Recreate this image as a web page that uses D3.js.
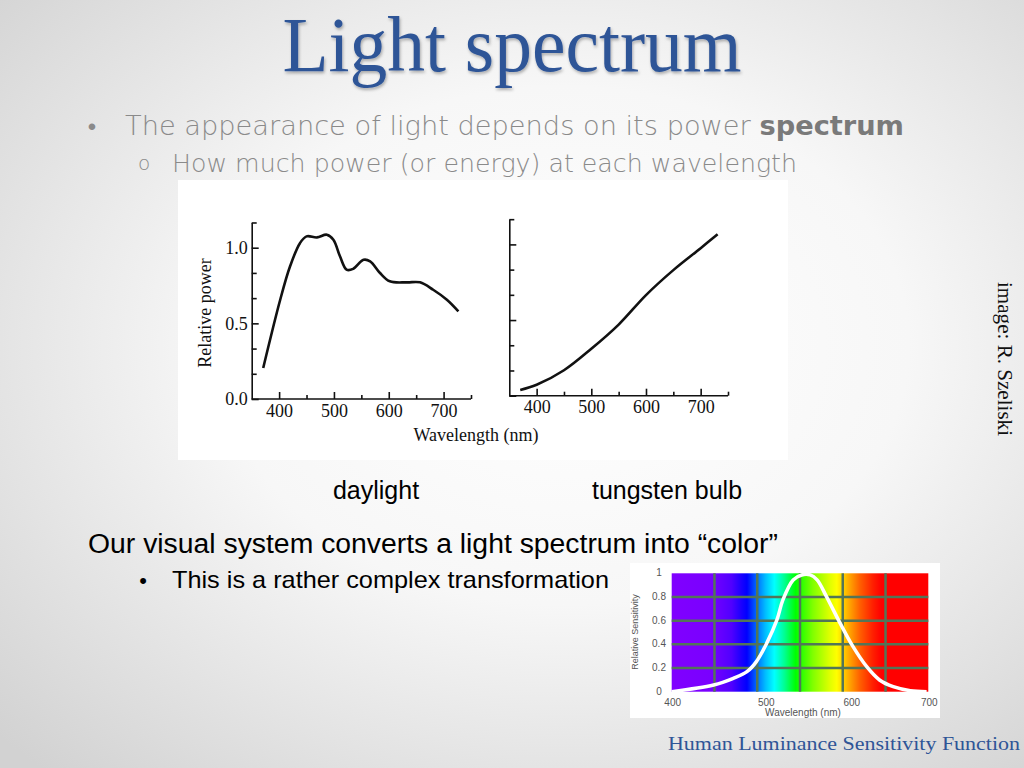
<!DOCTYPE html>
<html lang="en">
<head>
<meta charset="UTF-8">
<title>Light spectrum</title>
<script src="https://d3js.org/d3.v7.min.js"></script>
<style>
    body { margin: 0; }
    .serif { font-family: "Liberation Serif", "DejaVu Serif", serif; }
    .sans { font-family: "Liberation Sans", Arial, sans-serif; }
    .gothic { font-family: "DejaVu Sans", "Liberation Sans", sans-serif; font-weight: 300; }
    .paxis path, .paxis line { stroke: #111; stroke-width: 1.6; }
    .paxis text { font-family: "Liberation Serif", serif; font-size: 18px; fill: #111; }
</style>
</head>
<body>
<div id="fig"></div>
<script>
    // daylight spectrum
    let daylight_nm = [371, 402, 420, 438, 450, 469, 487, 499, 511, 523, 535, 554, 566, 584, 602, 633, 657, 681, 706, 727]
    let daylight_power = [0.205, 0.656, 0.877, 1.03, 1.075, 1.068, 1.086, 1.053, 0.943, 0.855, 0.86, 0.92, 0.91, 0.833, 0.778, 0.771, 0.771, 0.722, 0.656, 0.579]

    // tungsten bulb spectrum
    let tungsten_nm = [370, 400, 450, 500, 550, 600, 650, 700, 731]
    let tungsten_power = [0.038, 0.072, 0.168, 0.31, 0.47, 0.665, 0.83, 0.975, 1.067]

    // human luminance sensitivity
    let lum_nm = [400, 449, 472, 488, 499, 511, 523, 530, 542, 552, 562, 570, 581, 597, 612, 628, 643, 659, 679, 698]
    let lum_val = [0, 0.056, 0.113, 0.169, 0.254, 0.408, 0.606, 0.775, 0.944, 0.986, 0.986, 0.944, 0.803, 0.577, 0.38, 0.211, 0.099, 0.042, 0.008, 0]

    let wave_ticks = [400, 450, 500, 550, 600, 650, 700, 750]
    let power_ticks = [0, 1/6, 2/6, 3/6, 4/6, 5/6, 1, 7/6]
    let lum_x_ticks = [400, 500, 600, 700]
    let lum_x_grid = [450, 500, 550, 600, 650]
    let lum_y_ticks = [0, 0.2, 0.4, 0.6, 0.8, 1]

    let spectrum_nm = [400, 445, 470, 482, 488, 500, 510, 520, 532, 545, 565, 585, 593, 606, 620, 635, 645, 700]
    let spectrum_col = ["#8000ff", "#7a00ff", "#5000ff", "#1800ff", "#0000ff", "#0070ff", "#00c0ff", "#00ffff", "#00ff90", "#00ff00", "#80ff00", "#e0ff00", "#ffff00", "#ffb000", "#ff6000", "#ff2000", "#ff0000", "#ff0000"]

    let W = 1024, H = 768
    let svg = d3.select("#fig").append("svg").attr("width", W).attr("height", H)
    let defs = svg.append("defs")

    let bg = defs.append("radialGradient").attr("id", "bg")
        .attr("cx", "55%").attr("cy", "45%").attr("r", "75%")
    bg.append("stop").attr("offset", "0").attr("stop-color", "#ffffff")
    bg.append("stop").attr("offset", "0.45").attr("stop-color", "#f7f7f7")
    bg.append("stop").attr("offset", "1").attr("stop-color", "#d2d2d2")

    let shadow = defs.append("filter").attr("id", "shadow")
    shadow.append("feDropShadow").attr("dx", 1).attr("dy", 2).attr("stdDeviation", 1.5)
        .attr("flood-color", "#000").attr("flood-opacity", 0.3)

    svg.append("rect").attr("width", W).attr("height", H).attr("fill", "url(#bg)")

    // title
    svg.append("text").attr("class", "serif")
        .attr("x", 512).attr("y", 71).attr("text-anchor", "middle")
        .attr("font-size", 78).attr("fill", "#2f5597")
        .attr("textLength", 459).attr("lengthAdjust", "spacingAndGlyphs")
        .attr("filter", "url(#shadow)")
        .text("Light spectrum")

    // bullets
    svg.append("text").attr("x", 92).attr("y", 135).attr("text-anchor", "middle")
        .attr("class", "sans").attr("font-size", 24).attr("fill", "#8a8a8a").text("•")
    let l1 = svg.append("text").attr("class", "gothic").attr("x", 125).attr("y", 135)
        .attr("font-size", 27).attr("fill", "#8a8a8a")
        .attr("textLength", 779).attr("lengthAdjust", "spacingAndGlyphs")
    l1.append("tspan").text("The appearance of light depends on its power ")
    l1.append("tspan").attr("font-weight", "bold").attr("fill", "#7a7a7a").text("spectrum")

    svg.append("text").attr("x", 144).attr("y", 170).attr("text-anchor", "middle")
        .attr("class", "gothic").attr("font-size", 20).attr("fill", "#8a8a8a").text("o")
    svg.append("text").attr("class", "gothic").attr("x", 172).attr("y", 172)
        .attr("font-size", 25).attr("fill", "#8a8a8a")
        .attr("textLength", 625).attr("lengthAdjust", "spacingAndGlyphs")
        .text("How much power (or energy) at each wavelength")

    // white image panel behind the two plots
    svg.append("rect").attr("x", 178).attr("y", 180).attr("width", 610).attr("height", 280).attr("fill", "#ffffff")

    function power_plot(nm, power, left, right, base, labels) {
        let x = d3.scaleLinear().domain([350, 750]).range([left, right])
        let y = d3.scaleLinear().domain([0, 7/6]).range([base, base - 151.3 * 7/6])

        let xa = svg.append("g").attr("class", "paxis")
            .attr("transform", `translate(0,${base})`)
            .call(d3.axisBottom(x).tickValues(wave_ticks).tickSizeInner(-7).tickSizeOuter(0).tickPadding(5)
                .tickFormat(d => d % 100 === 0 && d < 750 ? d : ""))
        xa.selectAll(".tick line").attr("y2", d => d % 100 === 0 ? -7 : -4)
        xa.select(".domain").attr("d", `M${left},0H${right}`)

        let ya = svg.append("g").attr("class", "paxis")
            .attr("transform", `translate(${left},0)`)
            .call(d3.axisLeft(y).tickValues(power_ticks).tickSizeInner(-6).tickSizeOuter(0).tickPadding(4)
                .tickFormat((d, i) => labels && i % 3 === 0 && i < 7 ? d3.format(".1f")(d) : ""))
        ya.selectAll(".tick line").attr("x2", (d, i) => i % 3 === 0 ? 7 : 5)

        svg.append("path").datum(d3.zip(nm, power))
            .attr("fill", "none").attr("stroke", "#111").attr("stroke-width", 2.6)
            .attr("d", d3.line().x(d => x(d[0])).y(d => y(d[1])).curve(d3.curveCatmullRom))
    }

    power_plot(daylight_nm, daylight_power, 251.7, 471, 399, true)
    power_plot(tungsten_nm, tungsten_power, 509.3, 728, 395.7, false)

    svg.append("text").attr("class", "serif").attr("font-size", 18).attr("fill", "#111")
        .attr("transform", "translate(211,313) rotate(-90)").attr("text-anchor", "middle")
        .text("Relative power")
    svg.append("text").attr("class", "serif").attr("font-size", 18).attr("fill", "#111")
        .attr("x", 476).attr("y", 441).attr("text-anchor", "middle")
        .text("Wavelength (nm)")

    svg.append("text").attr("class", "sans").attr("font-size", 25).attr("fill", "#000")
        .attr("x", 376).attr("y", 499).attr("text-anchor", "middle").text("daylight")
    svg.append("text").attr("class", "sans").attr("font-size", 25).attr("fill", "#000")
        .attr("x", 667).attr("y", 499).attr("text-anchor", "middle").text("tungsten bulb")

    svg.append("text").attr("class", "sans").attr("font-size", 27).attr("fill", "#000")
        .attr("x", 88).attr("y", 553)
        .attr("textLength", 690).attr("lengthAdjust", "spacingAndGlyphs")
        .text("Our visual system converts a light spectrum into “color”")
    svg.append("text").attr("class", "sans").attr("font-size", 22).attr("fill", "#000")
        .attr("x", 143).attr("y", 588).attr("text-anchor", "middle").text("•")
    svg.append("text").attr("class", "sans").attr("font-size", 24).attr("fill", "#000")
        .attr("x", 172).attr("y", 588)
        .attr("textLength", 437).attr("lengthAdjust", "spacingAndGlyphs")
        .text("This is a rather complex transformation")

    svg.append("text").attr("class", "serif").attr("font-size", 21).attr("fill", "#111")
        .attr("transform", "translate(998,282) rotate(90)")
        .attr("textLength", 154).attr("lengthAdjust", "spacingAndGlyphs")
        .text("image: R. Szeliski")

    // luminance sensitivity chart
    svg.append("rect").attr("x", 630).attr("y", 563).attr("width", 310).attr("height", 155).attr("fill", "#ffffff")

    let lx = d3.scaleLinear().domain([400, 700]).range([671.7, 928.3])
    let ly = d3.scaleLinear().domain([0, 1]).range([691.7, 573.3])

    let spec = defs.append("linearGradient").attr("id", "spec")
        .attr("gradientUnits", "userSpaceOnUse")
        .attr("x1", lx(400)).attr("x2", lx(700)).attr("y1", 0).attr("y2", 0)
    spectrum_nm.forEach((d, i) => {
        spec.append("stop").attr("offset", (d - 400) / 300).attr("stop-color", spectrum_col[i])
    })
    svg.append("rect").attr("x", lx(400)).attr("y", ly(1))
        .attr("width", lx(700) - lx(400)).attr("height", ly(0) - ly(1))
        .attr("fill", "url(#spec)")

    svg.append("g").selectAll("line").data(lum_x_grid).join("line")
        .attr("x1", d => lx(d)).attr("x2", d => lx(d)).attr("y1", ly(1)).attr("y2", ly(0))
        .attr("stroke", "#527558").attr("stroke-width", 2.5)
    svg.append("g").selectAll("line").data(lum_y_ticks.slice(1, 5)).join("line")
        .attr("x1", lx(400)).attr("x2", lx(700)).attr("y1", d => ly(d)).attr("y2", d => ly(d))
        .attr("stroke", "#527558").attr("stroke-width", 2.5)

    svg.append("path").datum(d3.zip(lum_nm, lum_val))
        .attr("fill", "none").attr("stroke", "#ffffff").attr("stroke-width", 3.5)
        .attr("d", d3.line().x(d => lx(d[0])).y(d => ly(d[1])).curve(d3.curveCatmullRom))

    svg.append("g").selectAll("text").data(lum_y_ticks).join("text")
        .attr("class", "sans").attr("font-size", 10).attr("fill", "#555")
        .attr("x", 659).attr("y", d => ly(d) + 3).attr("text-anchor", "middle")
        .text(d => d)
    svg.append("g").selectAll("text").data(lum_x_ticks).join("text")
        .attr("class", "sans").attr("font-size", 10).attr("fill", "#555")
        .attr("x", d => lx(d) + (d === 400 || d === 700 ? 1 : 9)).attr("y", 706).attr("text-anchor", "middle")
        .text(d => d)
    svg.append("text").attr("class", "sans").attr("font-size", 10).attr("fill", "#555")
        .attr("x", 803).attr("y", 716).attr("text-anchor", "middle").text("Wavelength (nm)")
    svg.append("text").attr("class", "sans").attr("font-size", 9).attr("fill", "#555")
        .attr("transform", "translate(638,632) rotate(-90)").attr("text-anchor", "middle")
        .text("Relative Sensitivity")

    svg.append("text").attr("class", "serif").attr("font-size", 19).attr("fill", "#2f5597")
        .attr("x", 668).attr("y", 750).attr("textLength", 352).attr("lengthAdjust", "spacingAndGlyphs")
        .text("Human Luminance Sensitivity Function")
</script>
</body>
</html>
